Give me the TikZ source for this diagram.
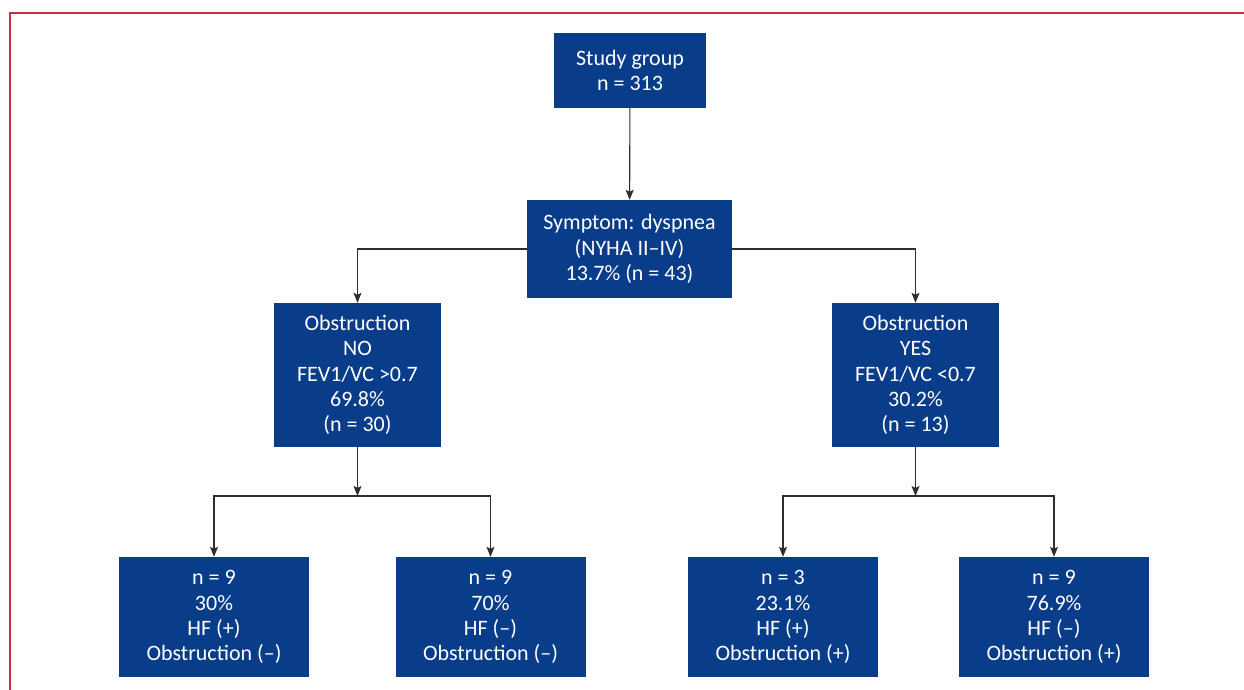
\documentclass[tikz,border=0pt]{standalone}
\usepackage{fontspec}
\setmainfont{Carlito}
\usetikzlibrary{arrows.meta}
\definecolor{boxblue}{HTML}{0A3D89}
\definecolor{framered}{HTML}{C2313C}
\definecolor{linegray}{HTML}{2E2E2E}
\tikzset{
  blk/.style={rectangle, fill=boxblue, text=white, align=center, inner sep=0pt,
    font=\fontsize{22}{25.2}\selectfont},
  arr/.style={draw=linegray, line width=1.1pt, -{Stealth[length=10pt,width=8pt,inset=2pt]}},
  ln/.style={draw=linegray, line width=1.1pt}
}
\begin{document}
\begin{tikzpicture}[x=1pt,y=-1pt]
\useasboundingbox (0,0) rectangle (1244,690);
\draw[framered, line width=2pt] (10,690) -- (10,13) -- (1244,13);
\node[blk, minimum width=152pt, minimum height=75pt] (study) at (630,70.5) {Study group\\n = 313};
\node[blk, minimum width=205pt, minimum height=98pt] (sym) at (629.5,249) {Symptom: dyspnea\\(NYHA II–IV)\\13.7\% (n = 43)};
\node[blk, minimum width=167pt, minimum height=144pt] (no) at (357.5,375) {Obstruction\\NO\\FEV1/VC >0.7\\69.8\%\\(n = 30)};
\node[blk, minimum width=167pt, minimum height=144pt] (yes) at (915.5,375) {Obstruction\\YES\\FEV1/VC <0.7\\30.2\%\\(n = 13)};
\node[blk, minimum width=190pt, minimum height=120pt] (b1) at (214,617) {n = 9\\30\%\\HF (+)\\Obstruction (–)};
\node[blk, minimum width=190pt, minimum height=120pt] (b2) at (490.5,617) {n = 9\\70\%\\HF (–)\\Obstruction (–)};
\node[blk, minimum width=190pt, minimum height=120pt] (b3) at (783,617) {n = 3\\23.1\%\\HF (+)\\Obstruction (+)};
\node[blk, minimum width=190pt, minimum height=120pt] (b4) at (1054,617) {n = 9\\76.9\%\\HF (–)\\Obstruction (+)};
\coordinate (jl) at (357.5,496);
\coordinate (jr) at (915.5,496);
\draw[arr] (study) -- (sym);
\draw[arr] (sym.west) -| (no.north);
\draw[arr] (sym.east) -| (yes.north);
\draw[arr] (no) -- (jl);
\draw[arr] (yes) -- (jr);
\draw[arr] (jl) -| (b1.north);
\draw[arr] (jl) -| (b2.north);
\draw[arr] (jr) -| (b3.north);
\draw[arr] (jr) -| (b4.north);
\end{tikzpicture}
\end{document}
